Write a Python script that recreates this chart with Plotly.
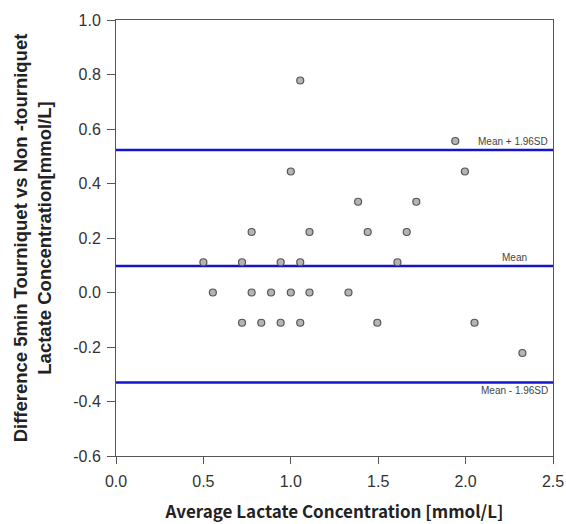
import plotly.graph_objects as go

avg_x = [1.054, 1.941, 1.0, 1.996, 1.385, 1.718,
         0.776, 1.107, 1.44, 1.663,
         0.5, 0.721, 0.942, 1.054, 1.61,
         0.554, 0.776, 0.887, 1.0, 1.107, 1.33,
         0.721, 0.831, 0.942, 1.054, 1.495, 2.051,
         2.325]
diff_y = [0.778, 0.556, 0.444, 0.444, 0.333, 0.333,
          0.222, 0.222, 0.222, 0.222,
          0.111, 0.111, 0.111, 0.111, 0.111,
          0.0, 0.0, 0.0, 0.0, 0.0, 0.0,
          -0.111, -0.111, -0.111, -0.111, -0.111, -0.111,
          -0.222]

mean_diff = 0.097
upper_loa = 0.523
lower_loa = -0.330
x_span = [0.0, 2.5]
line_labels = ["Mean + 1.96SD", "Mean", "Mean - 1.96SD"]

x_tickvals = [0.0, 0.5, 1.0, 1.5, 2.0, 2.5]
x_ticktext = ["0.0", "0.5", "1.0", "1.5", "2.0", "2.5"]
y_tickvals = [-0.6, -0.4, -0.2, 0.0, 0.2, 0.4, 0.6, 0.8, 1.0]
y_ticktext = ["-0.6", "-0.4", "-0.2", "0.0", "0.2", "0.4", "0.6", "0.8", "1.0"]

SANS = "Arial, 'Liberation Sans', Helvetica, sans-serif"

fig = go.Figure()

for val in [upper_loa, mean_diff, lower_loa]:
    fig.add_trace(go.Scatter(x=x_span, y=[val, val], mode="lines",
                             line=dict(color="#1414c8", width=2.5),
                             hoverinfo="skip", showlegend=False))

fig.add_trace(go.Scatter(x=avg_x, y=diff_y, mode="markers",
                         marker=dict(symbol="circle", size=7, color="#b4b4b4",
                                     line=dict(color="#555555", width=1.2)),
                         showlegend=False))

ann_font = dict(family=SANS, size=10, color="#444444")
fig.add_annotation(x=2.48, y=upper_loa, text=line_labels[0], showarrow=False,
                   xanchor="right", yanchor="bottom", yshift=1, font=ann_font)
fig.add_annotation(x=2.28, y=mean_diff, text=line_labels[1], showarrow=False,
                   xanchor="center", yanchor="bottom", yshift=1, font=ann_font)
fig.add_annotation(x=2.48, y=lower_loa, text=line_labels[2], showarrow=False,
                   xanchor="right", yanchor="top", yshift=-1, font=ann_font)

tick_font = dict(family=SANS, size=16, color="#333333")

fig.update_layout(
    width=566, height=524,
    margin=dict(l=116, r=12, t=18, b=68),
    plot_bgcolor="white", paper_bgcolor="white",
    xaxis=dict(range=[0, 2.5], tickvals=x_tickvals, ticktext=x_ticktext,
               showgrid=False, zeroline=False, automargin=False,
               showline=True, linecolor="#555555", linewidth=1, mirror=True,
               ticks="outside", ticklen=7, tickcolor="#555555",
               ticklabelstandoff=4,
               tickfont=tick_font,
               title=dict(text="<b>Average Lactate Concentration [mmol/L]</b>",
                          font=dict(family="Noto Sans CJK JP", size=17, color="#222222"),
                          standoff=16)),
    yaxis=dict(range=[-0.6, 1.0], tickvals=y_tickvals, ticktext=y_ticktext,
               showgrid=False, zeroline=False,
               showline=True, linecolor="#555555", linewidth=1, mirror=True,
               ticks="outside", ticklen=8, tickcolor="#555555",
               ticklabelstandoff=3,
               tickfont=tick_font,
               title=dict(text="<b>Difference 5min Tourniquet vs Non -tourniquet<br>Lactate Concentration[mmol/L]</b>",
                          font=dict(family=SANS, size=18.5, color="#222222"),
                          standoff=16)),
)

fig.write_html("out.html", config={"displayModeBar": False},
               post_script="document.body.style.margin='0';")
